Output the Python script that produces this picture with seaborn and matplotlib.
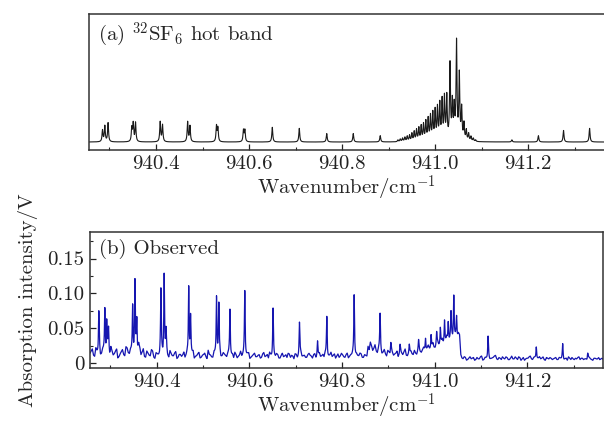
import numpy as np
import pandas as pd
import seaborn as sns
import matplotlib.pyplot as plt
from matplotlib.ticker import MultipleLocator, FixedLocator

# (a) simulated 32SF6 hot band: line centres (cm^-1) and relative heights
calc_pos = [940.285, 940.290, 940.297, 940.348, 940.351, 940.356, 940.409, 940.414,
            940.468, 940.473, 940.530, 940.533, 940.588, 940.591, 940.650, 940.708,
            940.767, 940.824, 940.882, 941.165, 941.222, 941.276, 941.332]
calc_height = [0.11, 0.15, 0.18, 0.13, 0.17, 0.18, 0.19, 0.16,
               0.19, 0.15, 0.15, 0.13, 0.11, 0.11, 0.14, 0.13,
               0.08, 0.08, 0.06, 0.02, 0.06, 0.11, 0.13]

# dense Q-branch of the hot band
band_pos = [940.920, 940.925, 940.930, 940.935, 940.940, 940.945, 940.950, 940.955,
            940.960, 940.965, 940.970, 940.975, 940.980, 940.985, 940.990, 940.995,
            941.000, 941.005, 941.010, 941.015, 941.020, 941.025, 941.032, 941.037,
            941.041, 941.046, 941.052, 941.057, 941.062, 941.067, 941.072, 941.077,
            941.082, 941.087]
band_height = [0.017, 0.025, 0.033, 0.041, 0.050, 0.058, 0.075, 0.091,
               0.108, 0.124, 0.141, 0.157, 0.182, 0.207, 0.232, 0.257,
               0.282, 0.306, 0.340, 0.373, 0.400, 0.410, 0.72, 0.35,
               0.30, 0.93, 0.62, 0.30, 0.16, 0.10, 0.07, 0.045,
               0.03, 0.015]

# (b) observed spectrum: line centres (cm^-1) and heights above baseline (V)
obs_pos = [940.275, 940.288, 940.292, 940.296, 940.348, 940.353, 940.357, 940.409,
           940.416, 940.420, 940.469, 940.473, 940.529, 940.534, 940.558, 940.590,
           940.651, 940.708, 940.747, 940.767, 940.826, 940.882, 940.905, 940.925,
           940.945, 940.965, 940.980, 940.992, 941.004, 941.012, 941.021, 941.029,
           941.035, 941.041, 941.047, 941.115, 941.219, 941.276, 941.330]
obs_height = [0.055, 0.062, 0.045, 0.035, 0.070, 0.103, 0.045, 0.090,
              0.115, 0.030, 0.100, 0.055, 0.085, 0.072, 0.068, 0.094,
              0.066, 0.045, 0.022, 0.057, 0.091, 0.052, 0.012, 0.012,
              0.013, 0.015, 0.018, 0.020, 0.018, 0.025, 0.035, 0.028,
              0.035, 0.062, 0.030, 0.031, 0.018, 0.019, 0.008]

# observed baseline read every 0.005 cm^-1 from 940.256, plus the readings
# half-way between (units of 1e-3 V)
obs_start = 940.256
obs_step = 0.005
obs_baseline = [
    14, 20, 9, 16, 24, 12, 18, 8, 15, 22, 11, 17, 7, 13, 19, 10, 21, 12, 16, 9,
    18, 26, 11, 20, 8, 14, 10, 17, 6, 12, 9, 15, 11, 19, 7, 13, 10, 16, 8, 12,
    11, 7, 14, 9, 13, 6, 10, 15, 8, 12, 9, 18, 11, 7, 13, 10, 16, 9, 12, 8,
    14, 10, 7, 12, 9, 16, 11, 8, 13, 6, 10, 14, 9, 12, 8, 15, 10, 7, 11, 13,
    9, 12, 7, 14, 10, 8, 13, 11, 6, 12, 9, 15, 10, 8, 12, 11, 7, 13, 9, 14,
    10, 8, 12, 9, 15, 11, 7, 13, 10, 12, 8, 14, 9, 11, 7, 12, 10, 13, 8, 11,
    24, 30, 18, 26, 14, 22, 12, 19, 10, 16, 21, 11, 14, 9, 17, 12, 20, 10, 15, 13,
    18, 12, 20, 15, 22, 17, 25, 19, 28, 21, 30, 24, 33, 26, 36, 30, 40, 34, 38, 42,
    12, 6, 8, 5, 9, 7, 4, 8, 6, 10, 5, 7, 9, 6, 8, 11, 5, 7, 9, 6,
    8, 5, 10, 6, 7, 9, 4, 8, 6, 7, 10, 5, 8, 6, 9, 7, 5, 8, 6, 7,
    6, 8, 5, 7, 9, 6, 4, 7, 8, 5, 6, 9, 7, 5, 6, 8, 6, 4, 7, 6, 5, 7,
]
obs_baseline_mid = [
    17, 11, 21, 13, 9, 19, 14, 22, 10, 17, 13, 20, 9, 16, 12, 23, 14, 18, 10, 15,
    13, 21, 15, 9, 17, 11, 19, 8, 14, 10, 16, 7, 13, 9, 17, 10, 14, 6, 12, 9,
    15, 10, 8, 12, 16, 9, 13, 7, 11, 14, 6, 12, 8, 15, 9, 12, 7, 14, 10, 13,
    8, 12, 15, 7, 11, 9, 13, 10, 14, 8, 12, 9, 11, 7, 13, 9, 12, 15, 8, 10,
    13, 7, 11, 9, 12, 14, 8, 10, 13, 7, 15, 9, 11, 8, 14, 10, 12, 7, 11, 9,
    12, 14, 7, 11, 9, 13, 10, 8, 14, 9, 12, 7, 11, 13, 9, 10, 14, 8, 12, 10,
    19, 25, 21, 17, 20, 16, 15, 13, 18, 12, 15, 13, 17, 12, 14, 16, 11, 13, 17, 12,
    14, 17, 16, 19, 18, 21, 20, 23, 22, 26, 25, 28, 27, 31, 30, 35, 32, 37, 35, 40,
    7, 9, 4, 7, 6, 8, 5, 6, 9, 4, 8, 6, 5, 7, 10, 6, 8, 5, 7, 9,
    5, 7, 6, 9, 5, 8, 6, 4, 7, 9, 6, 8, 5, 7, 6, 9, 4, 7, 8, 5,
    7, 5, 8, 6, 4, 7, 9, 5, 6, 7, 8, 5, 7, 6, 4, 8, 5, 7, 6, 8, 6, 5,
]

XMIN, XMAX = 940.256, 941.363


def lorentz_sum(x, centres, heights, hwhm):
    y = np.zeros_like(x)
    for c, h in zip(centres, heights):
        y += h / (1 + ((x - c) / hwhm) ** 2)
    return y


x = np.arange(XMIN, XMAX, 0.0002)
calc = lorentz_sum(x, calc_pos, calc_height, 0.0012) + lorentz_sum(x, band_pos, band_height, 0.0012)

n = len(obs_baseline)
base_x = np.empty(2 * n)
base_y = np.empty(2 * n)
base_x[0::2] = obs_start + obs_step * np.arange(n)
base_x[1::2] = obs_start + obs_step * (np.arange(n) + 0.5)
base_y[0::2] = obs_baseline
base_y[1::2] = obs_baseline_mid
base = np.interp(x, base_x, base_y / 1000)
obs = base + lorentz_sum(x, obs_pos, obs_height, 0.0009)

df_calc = pd.DataFrame({'wn': x, 'I': calc})
df_obs = pd.DataFrame({'wn': x, 'I': obs})

sns.set_theme(style='ticks')
plt.rcParams['font.family'] = ['cmr10', 'DejaVu Serif']
plt.rcParams['mathtext.fontset'] = 'cm'
plt.rcParams['axes.formatter.use_mathtext'] = True
plt.rcParams['axes.unicode_minus'] = False

fig = plt.figure(figsize=(6.04, 4.21), dpi=100)
ax1 = fig.add_axes([89 / 604, 1 - 150 / 421, 515 / 604, 136 / 421])
ax2 = fig.add_axes([90 / 604, 1 - 368 / 421, 513 / 604, 136 / 421])

sns.lineplot(data=df_calc, x='wn', y='I', ax=ax1, color='#1a1a1a', lw=0.8,
             estimator=None, sort=False)
sns.lineplot(data=df_obs, x='wn', y='I', ax=ax2, color='#1515b0', lw=0.9,
             estimator=None, sort=False)

for ax in (ax1, ax2):
    ax.set_xlim(XMIN, XMAX)
    ax.xaxis.set_major_locator(FixedLocator([940.4, 940.6, 940.8, 941.0, 941.2]))
    ax.xaxis.set_minor_locator(FixedLocator([940.3, 940.5, 940.7, 940.9, 941.1, 941.3]))
    ax.set_xticklabels(['940.4', '940.6', '940.8', '941.0', '941.2'])
    ax.tick_params(axis='both', which='major', direction='in', length=4, width=0.9,
                   labelsize=15, pad=4, colors='#222222')
    ax.tick_params(axis='both', which='minor', direction='in', length=2.5, width=0.8)
    ax.set_xlabel('Wavenumber/cm$^{-1}$', fontsize=15, labelpad=0)
    for sp in ax.spines.values():
        sp.set_linewidth(1.1)
        sp.set_color('#333333')

ax1.set_ylim(-0.076, 1.22)
ax1.set_yticks([])
ax1.set_ylabel('')
ax1.spines['right'].set_visible(False)
ax1.text(0.018, 0.95, '(a) $^{32}$SF$_6$ hot band', transform=ax1.transAxes,
         fontsize=15, va='top', ha='left')

ax2.set_ylim(-0.007, 0.188)
ax2.set_yticks([0, 0.05, 0.10, 0.15])
ax2.set_yticklabels(['0', '0.05', '0.10', '0.15'])
ax2.yaxis.set_minor_locator(MultipleLocator(0.025))
ax2.set_ylabel('Absorption intensity/V', fontsize=15, labelpad=7)
ax2.text(0.018, 0.95, '(b) Observed', transform=ax2.transAxes,
         fontsize=15, va='top', ha='left')

fig.savefig('out.png', dpi=100)
